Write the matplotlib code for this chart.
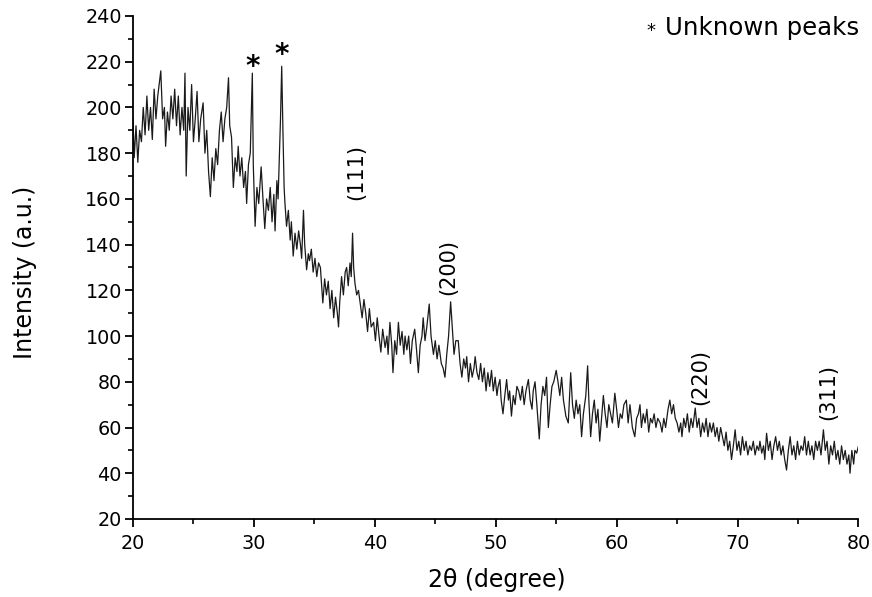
import matplotlib.pyplot as plt
from matplotlib.ticker import MultipleLocator

plt.rcParams['font.family'] = ['DejaVu Sans']

# XRD scan, 2theta (degree) / intensity (a.u.)
two_theta = [
    20.0, 20.1, 20.25, 20.4, 20.55, 20.7, 20.85, 21.0, 21.15, 21.3, 21.45, 21.6, 21.75, 21.9, 22.05, 22.3,
    22.45, 22.6, 22.7, 22.85, 23.0, 23.15, 23.3, 23.45, 23.6, 23.75, 23.9, 24.05, 24.2, 24.3, 24.4, 24.55,
    24.7, 24.85, 25.0, 25.15, 25.3, 25.45, 25.6, 25.8, 25.95, 26.1, 26.25, 26.4, 26.55, 26.7, 26.85, 27.0,
    27.15, 27.3, 27.45, 27.6, 27.75, 27.9, 28.0, 28.15, 28.3, 28.45, 28.6, 28.7, 28.85, 29.0, 29.15, 29.3,
    29.4, 29.55, 29.7, 29.87, 29.95, 30.1, 30.25, 30.4, 30.6, 30.75, 30.9, 31.05, 31.2, 31.35, 31.5, 31.65,
    31.75, 31.9, 32.0, 32.1, 32.2, 32.3, 32.4, 32.5, 32.57, 32.7, 32.85, 33.0, 33.1, 33.25, 33.4, 33.55,
    33.7, 33.85, 33.95, 34.1, 34.2, 34.36, 34.5, 34.6, 34.75, 34.9, 35.05, 35.2, 35.35, 35.5, 35.6, 35.7,
    35.85, 36.0, 36.15, 36.3, 36.45, 36.6, 36.75, 36.9, 37.0, 37.1, 37.25, 37.4, 37.55, 37.67, 37.8, 37.95,
    38.05, 38.16, 38.25, 38.36, 38.5, 38.65, 38.8, 38.95, 39.1, 39.25, 39.4, 39.55, 39.7, 39.9, 40.05, 40.2,
    40.35, 40.5, 40.65, 40.85, 41.0, 41.1, 41.25, 41.4, 41.5, 41.65, 41.8, 41.95, 42.1, 42.25, 42.4, 42.5,
    42.65, 42.8, 42.95, 43.1, 43.3, 43.45, 43.6, 43.75, 43.9, 44.0, 44.15, 44.3, 44.5, 44.65, 44.85, 45.0,
    45.15, 45.3, 45.5, 45.65, 45.8, 45.95, 46.1, 46.27, 46.4, 46.55, 46.7, 46.9, 47.05, 47.2, 47.35, 47.5,
    47.6, 47.75, 47.9, 48.05, 48.2, 48.3, 48.45, 48.6, 48.75, 48.9, 49.05, 49.2, 49.35, 49.5, 49.65, 49.8,
    49.95, 50.1, 50.2, 50.35, 50.45, 50.6, 50.75, 50.9, 51.05, 51.15, 51.3, 51.45, 51.6, 51.75, 51.9, 52.05,
    52.2, 52.35, 52.5, 52.7, 52.85, 53.0, 53.1, 53.25, 53.4, 53.6, 53.75, 53.9, 54.05, 54.2, 54.35, 54.5,
    54.65, 54.8, 55.0, 55.15, 55.3, 55.45, 55.6, 55.8, 56.0, 56.2, 56.35, 56.5, 56.65, 56.8, 56.95, 57.1,
    57.25, 57.45, 57.6, 57.7, 57.85, 58.0, 58.15, 58.3, 58.45, 58.6, 58.75, 58.9, 59.05, 59.2, 59.35, 59.5,
    59.65, 59.85, 60.0, 60.15, 60.3, 60.45, 60.6, 60.8, 60.95, 61.1, 61.3, 61.5, 61.65, 61.8, 61.93, 62.05,
    62.2, 62.35, 62.5, 62.65, 62.8, 62.95, 63.1, 63.25, 63.4, 63.6, 63.75, 63.9, 64.05, 64.25, 64.4, 64.55,
    64.7, 64.85, 65.0, 65.15, 65.3, 65.4, 65.55, 65.7, 65.85, 66.0, 66.15, 66.3, 66.5, 66.65, 66.8, 66.95,
    67.1, 67.25, 67.4, 67.55, 67.7, 67.85, 68.0, 68.15, 68.3, 68.45, 68.6, 68.75, 68.9, 69.05, 69.2, 69.35,
    69.5, 69.65, 69.8, 69.95, 70.1, 70.25, 70.4, 70.55, 70.7, 70.85, 71.0, 71.15, 71.3, 71.45, 71.6, 71.75,
    71.85, 72.0, 72.15, 72.25, 72.4, 72.55, 72.7, 72.85, 73.0, 73.15, 73.3, 73.45, 73.6, 73.75, 73.9, 74.05,
    74.2, 74.35, 74.5, 74.65, 74.8, 74.95, 75.1, 75.25, 75.4, 75.55, 75.7, 75.85, 76.0, 76.15, 76.3, 76.45,
    76.6, 76.75, 76.9, 77.1, 77.25, 77.4, 77.55, 77.7, 77.85, 78.0, 78.15, 78.3, 78.45, 78.6, 78.75, 78.9,
    79.05, 79.2, 79.3, 79.45, 79.6, 79.7, 79.85, 80.0,
]
intensity = [
    195, 178, 192, 176, 190, 185, 200, 188, 205, 190, 200, 186, 208, 195, 205, 216,
    195, 200, 183, 198, 190, 205, 195, 208, 192, 205, 188, 200, 190, 215, 170, 200,
    190, 210, 185, 195, 207, 185, 195, 202, 180, 190, 172, 161, 178, 168, 182, 175,
    190, 198, 185, 195, 200, 213, 192, 187, 165, 178, 172, 183, 170, 178, 165, 172,
    158, 175, 180, 215, 175, 148, 165, 158, 174, 160, 147, 160, 155, 165, 150, 162,
    146, 168, 160, 178, 195, 218, 190, 165, 158, 148, 155, 142, 150, 135, 145, 138,
    146, 140, 134, 155, 140, 129, 136, 133, 138, 128, 134, 126, 132, 130, 122, 114.5,
    125, 118, 124, 112, 120, 108, 117, 110, 104, 115, 126, 118, 128, 130, 122, 132,
    126, 145, 130, 123, 118, 120, 114, 108, 116, 110, 102, 112, 104, 106, 98, 108,
    100, 93, 103, 95, 100, 92, 106, 96, 84, 98, 92, 106, 96, 102, 92, 100,
    94, 100, 88, 98, 103, 94, 84, 96, 100, 108, 98, 104, 114, 100, 92, 98,
    90, 96, 88, 86, 82, 92, 100, 115, 104, 92, 98, 98, 88, 82, 90, 86,
    91, 80, 88, 82, 86, 91, 84, 81, 88, 80, 86, 76, 84, 78, 85, 76,
    82, 74, 78, 81, 72, 66, 74, 81, 72, 76, 65, 74, 70, 78, 76, 72,
    78, 70, 76, 81, 72, 68, 76, 80, 70, 55, 70, 78, 74, 82, 60, 70,
    78, 80, 85, 80, 74, 82, 72, 65, 62, 84, 70, 64, 72, 66, 70, 56,
    66, 74, 87, 72, 56, 66, 72, 62, 68, 54, 64, 74, 66, 60, 70, 66,
    62, 75, 68, 60, 66, 64, 70, 72, 62, 70, 60, 56, 64, 66, 70, 60,
    66, 62, 68, 58, 64, 62, 66, 60, 64, 62, 58, 64, 60, 68, 72, 66,
    70, 64, 62, 58, 62, 56, 64, 60, 66, 58, 64, 60, 68.5, 60, 64, 56,
    62, 58, 64, 56, 62, 58, 62, 56, 60, 54, 60, 56, 52, 58, 50, 54,
    46, 52, 59, 50, 54, 48, 56, 50, 54, 48, 52, 50, 54, 48, 52, 50,
    54, 48.8, 52, 46, 57.5, 50, 54, 46, 52, 56, 50, 54, 48, 52, 46, 41.4,
    50, 56, 48, 52, 46, 54, 48, 52, 50, 56, 48, 54, 48, 52, 46, 54,
    50, 54, 48, 59, 50, 54, 44, 52, 48, 54, 46, 50, 44, 52, 46, 50,
    44, 48, 40, 50, 44, 50, 48.8, 52,
]

# asterisks over the unknown peaks (text baseline)
star_x = [29.87, 32.3]
star_y = [214, 219.5]
# Miller indices, placed by the bottom of the rotated text
hkl_labels = ['(111)', '(200)', '(220)', '(311)']
hkl_x = [38.5, 46.1, 66.9, 77.5]
hkl_y = [159.5, 118, 70, 63.5]

fig = plt.figure(figsize=(8.72, 5.97), dpi=100)
ax = fig.add_axes([0.1525, 0.1307, 0.832, 0.8425])

ax.plot(two_theta, intensity, color='#1a1a1a', lw=0.9)

for x, y in zip(star_x, star_y):
    ax.text(x, y, '*', ha='center', va='baseline', fontsize=20, fontweight='bold')
for x, y, t in zip(hkl_x, hkl_y, hkl_labels):
    ax.text(x, y, t, rotation=90, ha='center', va='bottom', fontsize=15)

fig.text(651 / 872, 1 - 36 / 597, '*', ha='center', va='baseline', fontsize=13)
fig.text(665 / 872, 1 - 35 / 597, 'Unknown peaks', ha='left', va='baseline', fontsize=17.6)

ax.set_xlim(20, 80)
ax.set_ylim(20, 240)
ax.xaxis.set_major_locator(MultipleLocator(10))
ax.xaxis.set_minor_locator(MultipleLocator(5))
ax.yaxis.set_major_locator(MultipleLocator(20))
ax.yaxis.set_minor_locator(MultipleLocator(10))
ax.tick_params(which='major', direction='out', length=6, width=1.3, labelsize=13.8)
ax.tick_params(axis='x', which='major', pad=5)
ax.tick_params(axis='y', which='major', pad=2)
ax.tick_params(which='minor', direction='out', length=3.5, width=1.2)

for side in ['top', 'right']:
    ax.spines[side].set_visible(False)
for side in ['left', 'bottom']:
    ax.spines[side].set_linewidth(1.3)

ax.set_xlabel('2\u03b8 (degree)', fontsize=17, va='center')
ax.xaxis.set_label_coords(0.502, -0.121)
ax.set_ylabel('Intensity (a.u.)', fontsize=17, va='center')
ax.yaxis.set_label_coords(-0.149, 0.49)

fig.savefig('out.png', dpi=100)
